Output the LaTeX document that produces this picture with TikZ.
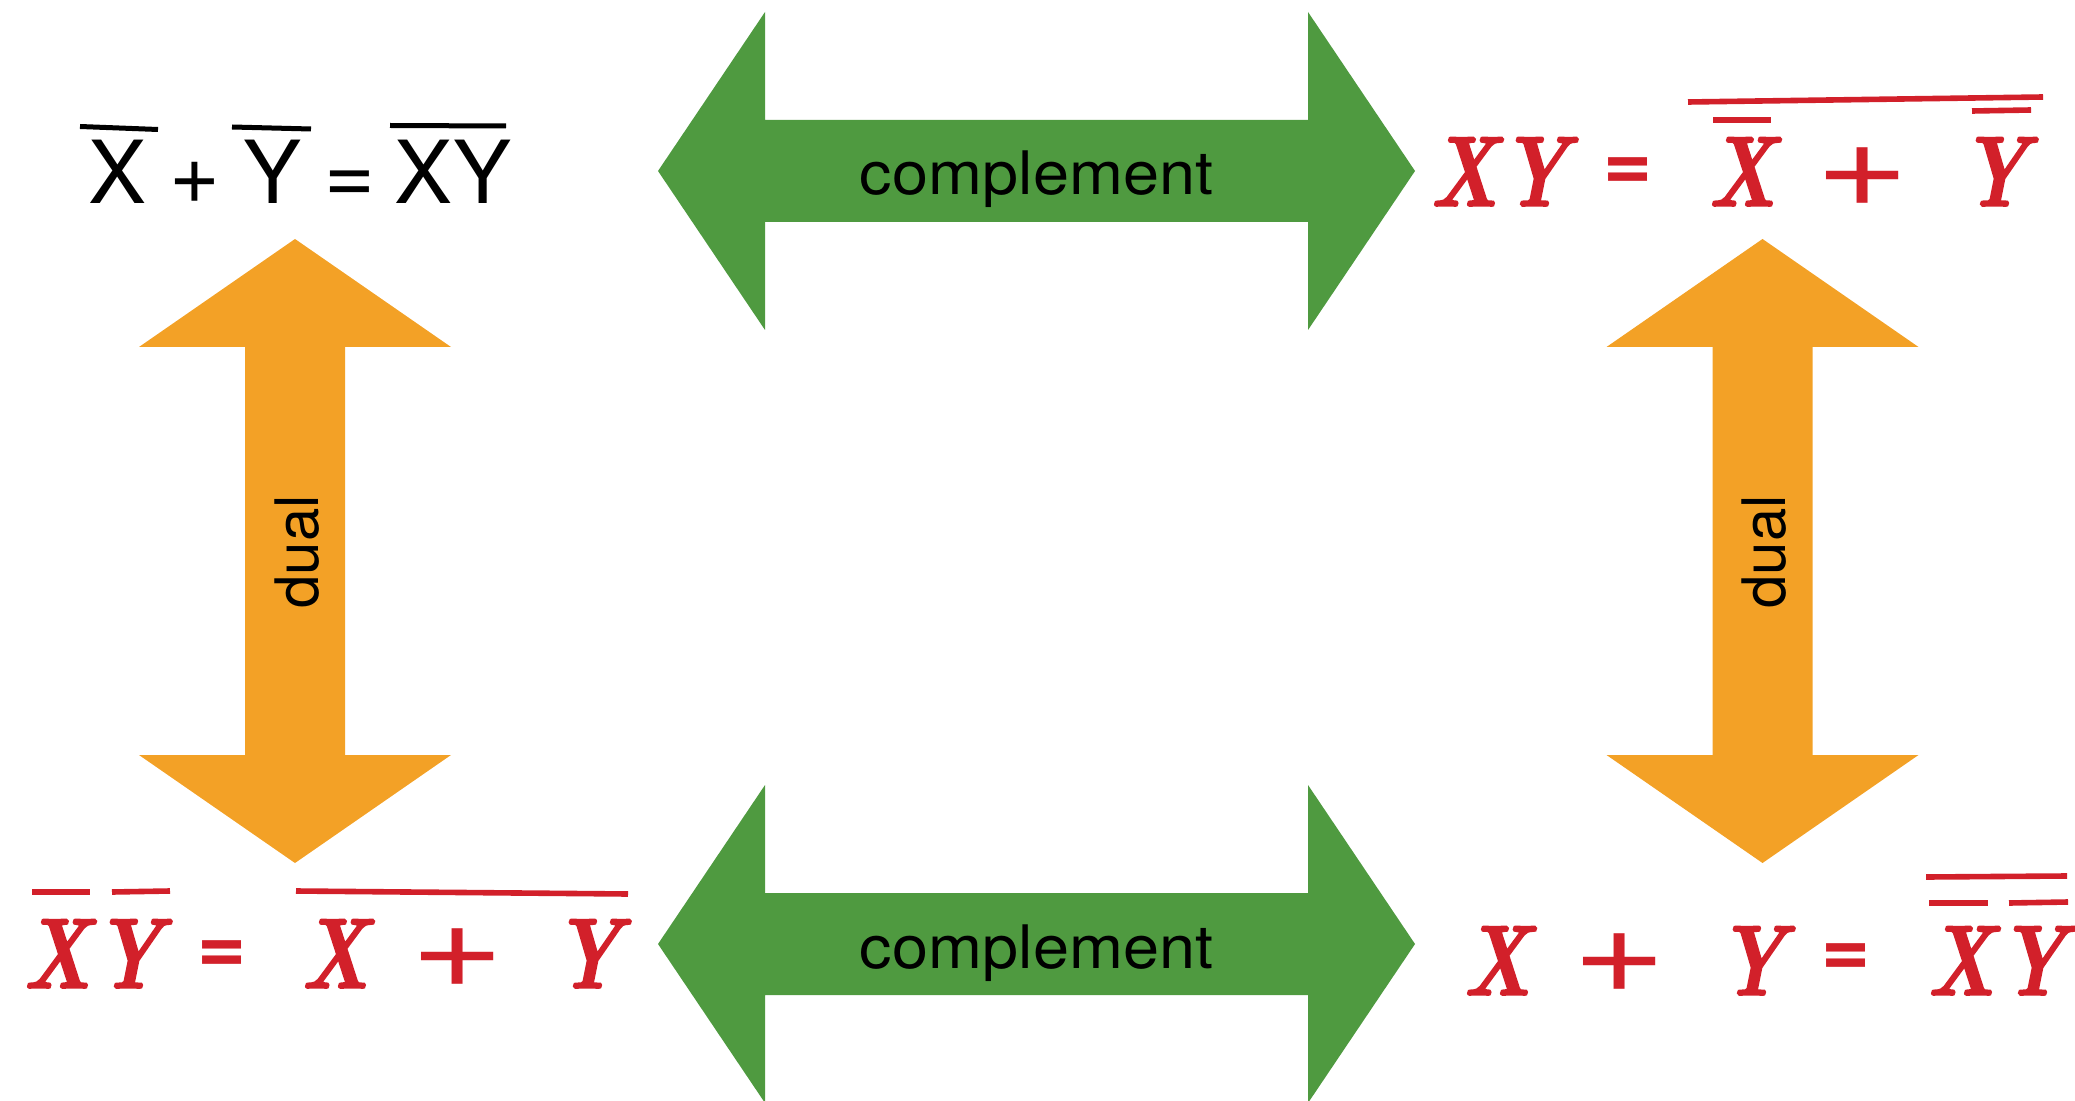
\documentclass[tikz,border=0pt]{standalone}
\usepackage{fontspec}
\newfontfamily\helv{TeX Gyre Heros}
\newfontfamily\handfont{lmroman10-bolditalic.otf}[FakeBold=1.6]
\usetikzlibrary{calc}
\definecolor{cgreen}{RGB}{79,154,64}
\definecolor{corange}{RGB}{243,161,38}
\definecolor{cred}{RGB}{210,32,42}
% narrowed glyphs for the hand-lettered formulas
\newcommand{\nrw}[1]{\scalebox{0.8}[1]{#1}}
\newcommand{\wideplus}{\scalebox{1.3}[1]{+}}

\begin{document}
\begin{tikzpicture}[x=0.5pt,y=-0.5pt,
  blk/.style={inner sep=0pt, anchor=base, font=\helv\fontsize{43.5}{50}\selectfont},
  hand/.style={inner sep=0pt, anchor=base, text=cred, font=\handfont\fontsize{50}{58}\selectfont},
  handeq/.style={inner sep=0pt, anchor=center, text=cred, font=\helv\bfseries\fontsize{42}{50}\selectfont},
  handplus/.style={inner sep=0pt, anchor=center, text=cred, font=\helv\fontsize{62}{68}\selectfont},
  bar/.style={line width=2.5pt},
  redbar/.style={cred, line width=2.8pt},
  lbl/.style={inner sep=0pt, anchor=base, font=\helv\fontsize{30}{36}\selectfont},
  greenarrow/.style={fill=cgreen},
  orangearrow/.style={fill=corange}
]
\clip (0,0) rectangle (2075,1101);

% centres of the block arrows
\coordinate (ctop) at (1036.5,171);
\coordinate (cbot) at (1036.5,944);
\coordinate (cleft) at (295,551);
\coordinate (cright) at (1762.5,551);

% horizontal double arrows (complement)
\foreach \c in {ctop,cbot}{
  \fill[greenarrow, shift={(\c)}]
    (-378.5,0) -- (-271.5,-159) -- (-271.5,-51) -- (271.5,-51) -- (271.5,-159)
    -- (378.5,0) -- (271.5,159) -- (271.5,51) -- (-271.5,51) -- (-271.5,159) -- cycle;
}
% vertical double arrows (dual)
\foreach \c in {cleft,cright}{
  \fill[orangearrow, shift={(\c)}]
    (0,-312) -- (156,-204) -- (50,-204) -- (50,204) -- (156,204)
    -- (0,312) -- (-156,204) -- (-50,204) -- (-50,-204) -- (-156,-204) -- cycle;
}

\node[lbl] (comptop) at (1036.5,195) {\scalebox{1.08}[1]{complement}};
\node[lbl] (compbot) at (1036.5,968) {\scalebox{1.08}[1]{complement}};
\node[lbl, rotate=90] (dualleft) at (318,552) {dual};
\node[lbl, rotate=90] (dualright) at (1785,552) {dual};

% top left: Xbar + Ybar = bar(XY)
\node[blk] (tlx) at (118,204) {X};
\node[blk] (tlplus) at (194.5,204) {+};
\node[blk] (tly) at (272.5,204) {Y};
\node[blk] (tleq) at (350,204) {=};
\node[blk] (tlxy) at (453,204) {XY};
\draw[bar] (80,126.5) -- (158,129.5);
\draw[bar] (232,127) -- (311,129);
\draw[bar] (390,125.5) -- (506,126);

% top right: XY = bar(Xbar + Ybar)
\node[hand] (trx) at (1464,206) {\nrw{X}};
\node[hand] (try) at (1534,206) {\nrw{Y}};
\node[handeq] (treq) at (1628,174) {=};
\node[hand] (trx2) at (1742,206) {\nrw{X}};
\node[handplus] (trplus) at (1863,177) {\wideplus};
\node[hand] (try2) at (1994,206) {\nrw{Y}};
\draw[redbar] (1688,102) -- (2043,97);
\draw[redbar] (1713,120) -- (1771,120);
\draw[redbar] (1972,111) -- (2031,110);

% bottom left: Xbar Ybar = bar(X + Y)
\node[hand] (blx) at (57,988) {\nrw{X}};
\node[hand] (bly) at (128,988) {\nrw{Y}};
\node[handeq] (bleq) at (222,957) {=};
\node[hand] (blx2) at (335,988) {\nrw{X}};
\node[handplus] (blplus) at (458,958) {\wideplus};
\node[hand] (bly2) at (587,988) {\nrw{Y}};
\draw[redbar] (32,892) -- (90,892);
\draw[redbar] (112,892) -- (170,891);
\draw[redbar] (296,891) -- (628,894);

% bottom right: X + Y = bar(Xbar Ybar)
\node[hand] (brx) at (1497,995) {\nrw{X}};
\node[handplus] (brplus) at (1620,963) {\wideplus};
\node[hand] (bry) at (1751,995) {\nrw{Y}};
\node[handeq] (breq) at (1846,960) {=};
\node[hand] (brx2) at (1961,995) {\nrw{X}};
\node[hand] (bry2) at (2032,995) {\nrw{Y}};
\draw[redbar] (1926,877) -- (2067,876);
\draw[redbar] (1929,903) -- (1988,903);
\draw[redbar] (2009,903) -- (2068,902);
\end{tikzpicture}
\end{document}
